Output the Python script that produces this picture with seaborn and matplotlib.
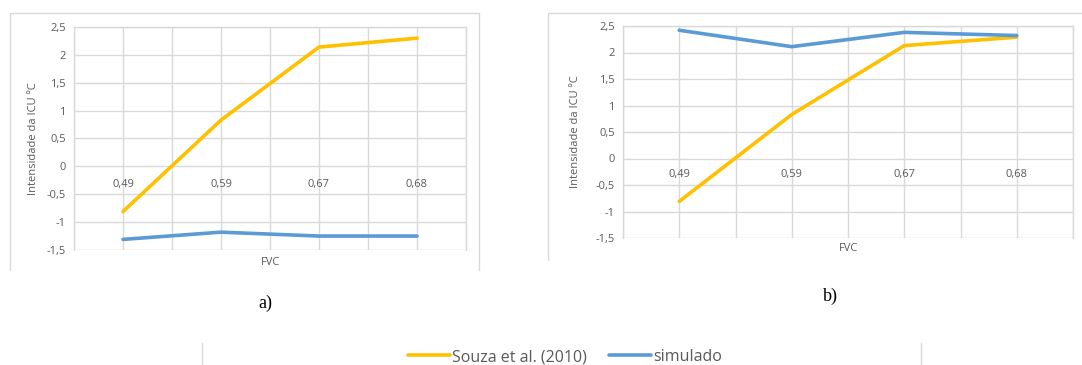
import matplotlib
matplotlib.use("Agg")
import matplotlib.pyplot as plt
from matplotlib.lines import Line2D
import seaborn as sns
import pandas as pd

# FVC classes and UHI intensity (ºC) for the two scenarios
fvc = ["0,49", "0,59", "0,67", "0,68"]
souza_a = [-0.81, 0.83, 2.14, 2.30]
simulado_a = [-1.31, -1.18, -1.25, -1.25]
souza_b = [-0.81, 0.83, 2.13, 2.29]
simulado_b = [2.42, 2.11, 2.38, 2.32]
y_ticks = [-1.5, -1, -0.5, 0, 0.5, 1, 1.5, 2, 2.5]
y_tick_labels = ["-1,5", "-1", "-0,5", "0", "0,5", "1", "1,5", "2", "2,5"]
series_names = ["Souza et al. (2010)", "simulado"]

ORANGE = "#FFC000"
BLUE = "#5B9BD5"
GRID = "#D9D9D9"
TEXT = "#595959"
FONT = ["Open Sans", "DejaVu Sans"]
FS = 8

sns.set_theme(style="white")
plt.rcParams["font.family"] = FONT

W, H = 1082, 365
fig = plt.figure(figsize=(W / 100, H / 100), dpi=100)


def px_axes(left, top, right, bottom):
    return fig.add_axes([left / W, 1 - bottom / H, (right - left) / W, (bottom - top) / H])


def long_frame(souza, simulado):
    return pd.DataFrame({
        "FVC": fvc * 2,
        "valor": souza + simulado,
        "serie": [series_names[0]] * len(fvc) + [series_names[1]] * len(fvc),
    })


def draw_panel(ax, souza, simulado, ylab_x, xlab_y, pad):
    df = long_frame(souza, simulado)
    sns.lineplot(data=df, x="FVC", y="valor", hue="serie", sort=False,
                 palette={series_names[0]: ORANGE, series_names[1]: BLUE},
                 linewidth=2.6, ax=ax, legend=False)
    ax.set_xlim(-0.5, len(fvc) - 0.5)
    ax.set_ylim(-1.5, 2.5)
    ax.set_xticks(range(len(fvc)))
    ax.set_xticklabels(fvc)
    ax.set_xticks([i - 0.5 for i in range(len(fvc) + 1)], minor=True)
    ax.set_yticks(y_ticks)
    ax.set_yticklabels(y_tick_labels)
    ax.grid(True, which="both", color=GRID, linewidth=1.0)
    ax.set_axisbelow(True)
    for side in ["left", "right", "top"]:
        ax.spines[side].set_color(GRID)
        ax.spines[side].set_linewidth(1.0)
    ax.spines["bottom"].set_position(("data", 0))
    ax.spines["bottom"].set_visible(False)
    ax.tick_params(axis="x", which="both", length=0, pad=pad, labelsize=FS, labelcolor=TEXT)
    ax.tick_params(axis="y", length=0, pad=6, labelsize=FS, labelcolor=TEXT)
    ax.set_xlabel("FVC", fontsize=FS, color=TEXT)
    ax.xaxis.set_label_coords(0.5, xlab_y)
    ax.set_ylabel("Intensidade da ICU ºC", fontsize=FS, color=TEXT)
    ax.yaxis.set_label_coords(ylab_x, 0.5)


ax_a = px_axes(74, 27, 466, 250)
draw_panel(ax_a, souza_a, simulado_a, -0.09, -0.03, 9)

ax_b = px_axes(623, 26, 1073, 238)
draw_panel(ax_b, souza_b, simulado_b, -0.093, -0.025, 7.5)


def fig_line(xs, ys):
    fig.add_artist(Line2D([x / W for x in xs], [1 - y / H for y in ys],
                          color=GRID, linewidth=1.0))


# chart-area frames
fig_line([10, 10, 479, 479], [270, 13, 13, 270])
fig_line([548, 548, 1082], [260, 13, 13])
fig_line([202, 202], [343, 365])
fig_line([921, 921], [343, 365])

fig.text(265 / W, 1 - 303 / H, "a)", family="Liberation Serif", fontsize=13,
         ha="center", va="center", color="black")
fig.text(830 / W, 1 - 296 / H, "b)", family="Liberation Serif", fontsize=13,
         ha="center", va="center", color="black")

handles = [Line2D([], [], color=ORANGE, linewidth=2.6),
           Line2D([], [], color=BLUE, linewidth=2.6)]
leg = fig.legend(handles, series_names, loc="center", ncol=2, frameon=False,
                 bbox_to_anchor=(565 / W, 1 - 357 / H), fontsize=11.5,
                 handlelength=2.6, handletextpad=0.15, columnspacing=1.4,
                 borderpad=0, borderaxespad=0)
for t in leg.get_texts():
    t.set_color(TEXT)

fig.savefig("out.png", dpi=100, facecolor="white")
